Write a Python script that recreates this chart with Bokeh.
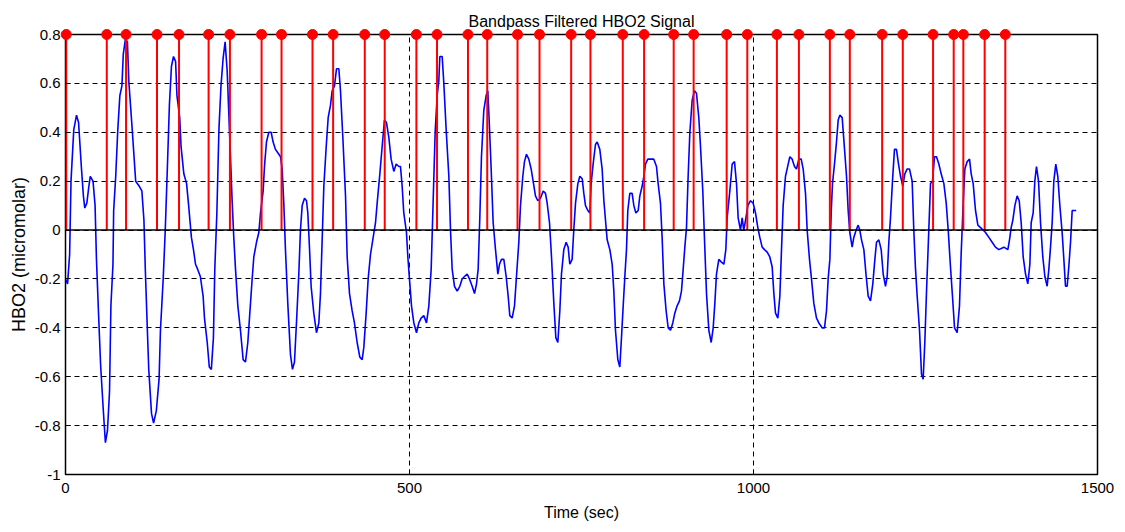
from bokeh.plotting import figure
from bokeh.models import Span, FixedTicker, Range1d
from bokeh.embed import file_html
from bokeh.resources import INLINE

# ---------------- data ----------------
time_sec = [
    0, 3, 6, 8, 12, 16, 19, 23, 26, 28, 31, 34, 36, 40, 43, 45, 48, 51, 55, 58,
    61, 64, 66, 69, 70, 73, 76, 79, 82, 84, 87, 90, 92, 97, 102, 107, 111, 114, 116, 119,
    121, 125, 128, 132, 136, 138, 142, 145, 148, 151, 154, 157, 160, 162, 166, 168, 172, 176, 179, 183,
    186, 189, 192, 196, 200, 202, 206, 209, 212, 215, 217, 220, 223, 226, 229, 232, 235,
    239.8, 242.2, 244.6, 247.1, 250.5, 254.3, 258.2, 261.6, 265.0, 267.9, 271.3, 273.7, 277.6, 281.0,
    283.4, 287.3, 289.2, 292.1, 295.5, 298.9, 301.8, 305.2, 310.1, 312.5, 314.9, 317.3, 319.7, 323.1,
    327.0, 329.9, 332.8, 335.7, 339.1, 341.5, 344.0, 347.4, 350.3, 352.2, 354.6, 357.0, 360.9, 364.8,
    368.2, 370.6, 373.5, 375.5, 378.9, 381.8, 385.1, 387.6, 391.0, 393.9, 397.3, 399.7, 403.1, 407.0,
    409.4, 412.8, 416.6, 420.0, 423.9, 427.8, 431.2, 433.6, 437.0, 439.9, 443.3, 447.2, 450.6, 453.0,
    456.9, 460.2, 463.6, 466.5, 469.9, 473.3, 477.2, 480.6, 484.5,
    486.9, 489.3, 491.7, 495.6, 497.6, 500.5, 502.9, 506.3, 510.2, 513.5, 516.9, 520.8, 524.7, 528.1,
    531.5, 534.4, 537.3, 540.2, 542.6, 544.1, 547.5, 549.9, 553.3, 557.2, 559.6, 562.0, 565.4, 569.3,
    573.1, 576.5, 579.9, 583.8, 587.2, 591.1, 594.5, 597.4, 599.8, 602.2, 604.6, 608.0, 611.4, 613.8,
    615.8, 618.7, 621.6, 625.0, 628.4, 630.8, 633.7, 637.1, 640.5, 643.4, 645.8, 649.2, 652.6, 655.5,
    658.9, 661.3, 664.7, 667.1, 670.0, 673.4, 676.8, 679.7, 683.1, 686.5, 690.4, 694.3, 697.7, 700.1,
    703.5, 706.4, 709.8, 712.7, 715.6, 718.5, 720.9, 724.3, 727.7, 730.6, 733.0, 736.4,
    738.8, 741.3, 744.7, 747.6, 751.0, 753.4, 755.8, 759.2, 762.1, 764.0, 766.9, 770.3, 772.8, 776.6,
    780.0, 782.5, 784.9, 787.3, 791.2, 794.6, 797.0, 799.4, 802.8, 805.7, 808.1, 810.6, 813.0, 815.4,
    817.3, 820.2, 823.6, 826.1, 829.0, 832.4, 834.8, 838.2, 840.6, 843.0, 846.4, 850.3, 855.1, 859.0,
    861.4, 864.8, 867.2, 869.7, 873.0, 876.0, 879.4, 882.7, 885.6, 889.0, 892.4, 895.3, 897.8, 900.2,
    902.6, 905.0, 907.5, 910.8, 914.2, 917.1, 920.5, 923.0, 926.3, 928.8, 931.7, 935.1, 938.5, 941.4,
    943.8, 946.2, 949.6, 953.0, 956.9, 959.8, 961.7, 965.6, 969.0, 972.4, 975.3, 977.7,
    981.1, 983.5, 985.9, 988.4, 991.8, 995.6, 999.5, 1002.9, 1006.3, 1009.2, 1012.6, 1016.0, 1019.9,
    1023.7, 1027.1, 1029.6, 1032.0, 1035.4, 1038.3, 1040.7, 1043.1, 1046.5, 1048.9, 1052.8, 1056.2,
    1059.6, 1062.5, 1065.9, 1069.3, 1072.2, 1075.6, 1078.0, 1081.4, 1084.3, 1087.7, 1091.6, 1095.0,
    1099.8, 1103.2, 1106.1, 1108.5, 1111.0, 1112.9, 1114.8, 1117.7, 1120.6, 1123.1, 1125.5, 1128.9,
    1131.3, 1135.2, 1137.6, 1140.0, 1143.4, 1145.8, 1149.2, 1152.1, 1154.5, 1157.0, 1160.4, 1163.8,
    1166.7, 1170.1, 1173.4, 1176.4, 1178.8, 1182.2, 1185.6, 1188.5, 1191.9, 1194.3, 1196.7, 1199.1,
    1202.0, 1204.9, 1207.8, 1210.8, 1213.7, 1217.0, 1220.0, 1223.4, 1226.7,
    1230.6, 1233.0, 1235.5, 1237.9, 1241.3, 1244.2, 1246.6, 1249.0, 1251.5, 1254.8, 1257.3, 1260.2,
    1263.1, 1266.0, 1269.4, 1272.8, 1276.7, 1280.1, 1283.0, 1286.3, 1289.2, 1292.2, 1296.0, 1299.4,
    1301.8, 1304.8, 1307.2, 1310.6, 1314.0, 1316.4, 1319.3, 1322.7, 1326.1, 1330.0, 1333.8, 1337.2,
    1342.1, 1346.9, 1351.7, 1356.6, 1363.9, 1369.7, 1372.1, 1374.5, 1376.9, 1379.9, 1383.2, 1386.2,
    1389.1, 1392.0, 1395.4, 1398.7, 1401.7, 1403.6, 1406.5, 1408.9, 1411.3, 1414.3, 1417.2, 1420.5,
    1423.5, 1426.8, 1429.3, 1431.7, 1434.1, 1436.5, 1439.4, 1442.3, 1445.3, 1448.6, 1451.1, 1453.5,
    1455.9, 1458.3, 1460.8, 1463.2, 1465.6, 1469.0,
]

hbo2 = [
    -0.2, -0.22, -0.1, 0.2, 0.41, 0.47, 0.44, 0.26, 0.14, 0.09, 0.11, 0.18, 0.22, 0.2, 0.1, -0.12, -0.34, -0.55, -0.74, -0.87,
    -0.82, -0.66, -0.31, -0.14, 0.08, 0.22, 0.41, 0.55, 0.59, 0.72, 0.78, 0.77, 0.61, 0.41, 0.2, 0.18, 0.16, 0.04, -0.16, -0.41,
    -0.57, -0.75, -0.79, -0.74, -0.61, -0.41, -0.2, 0.0, 0.25, 0.51, 0.67, 0.71, 0.69, 0.55, 0.46, 0.34, 0.23, 0.19, 0.1, -0.03,
    -0.08, -0.14, -0.16, -0.19, -0.27, -0.36, -0.46, -0.56, -0.57, -0.44, -0.16, 0.07, 0.41, 0.59, 0.7, 0.77, 0.65,
    0.3, 0.12, -0.03, -0.16, -0.31, -0.41, -0.53, -0.54, -0.46, -0.34, -0.2, -0.11, -0.05, -0.01,
    0.07, 0.16, 0.26, 0.36, 0.4, 0.4, 0.36, 0.33, 0.31, 0.3, 0.25, 0.11, -0.08, -0.3,
    -0.51, -0.57, -0.54, -0.38, -0.18, 0.0, 0.1, 0.13, 0.12, 0.07, -0.07, -0.23, -0.34, -0.42,
    -0.38, -0.26, 0.0, 0.18, 0.34, 0.46, 0.51, 0.57, 0.59, 0.66, 0.66, 0.57, 0.38, 0.14,
    -0.11, -0.26, -0.33, -0.38, -0.46, -0.52, -0.53, -0.48, -0.34, -0.2, -0.1, -0.03, 0.03, 0.11,
    0.23, 0.34, 0.45, 0.44, 0.38, 0.29, 0.24, 0.27, 0.26,
    0.26, 0.18, 0.07, -0.01, -0.11, -0.22, -0.31, -0.38, -0.42, -0.38, -0.36, -0.35, -0.38, -0.31,
    -0.16, 0.12, 0.4, 0.55, 0.61, 0.71, 0.71, 0.6, 0.41, 0.22, 0.0, -0.16, -0.23, -0.25,
    -0.23, -0.2, -0.19, -0.18, -0.2, -0.23, -0.26, -0.22, -0.16, 0.05, 0.3, 0.49, 0.55, 0.57,
    0.45, 0.25, 0.03, -0.08, -0.18, -0.14, -0.12, -0.12, -0.19, -0.27, -0.35, -0.36, -0.31, -0.19,
    -0.05, 0.1, 0.22, 0.28, 0.31, 0.29, 0.25, 0.2, 0.14, 0.12, 0.13, 0.16, 0.15, 0.11,
    0.03, -0.11, -0.3, -0.44, -0.46, -0.33, -0.18, -0.08, -0.05, -0.07, -0.14, -0.12,
    0.0, 0.11, 0.19, 0.22, 0.21, 0.15, 0.1, 0.08, 0.07, 0.19, 0.27, 0.35, 0.36, 0.33,
    0.25, 0.12, 0.04, -0.04, -0.08, -0.14, -0.25, -0.41, -0.53, -0.56, -0.44, -0.31, -0.19, -0.08,
    0.08, 0.15, 0.15, 0.1, 0.07, 0.08, 0.14, 0.18, 0.22, 0.27, 0.29, 0.29, 0.29, 0.26,
    0.19, 0.11, -0.03, -0.22, -0.33, -0.4, -0.41, -0.38, -0.34, -0.31, -0.29, -0.25, -0.16, -0.07,
    0.01, 0.22, 0.4, 0.53, 0.57, 0.56, 0.46, 0.34, 0.16, -0.04, -0.26, -0.41, -0.46, -0.4,
    -0.3, -0.18, -0.12, -0.13, -0.14, -0.08, 0.05, 0.16, 0.27, 0.28, 0.19, 0.05,
    0.0, 0.05, 0.0, 0.04, 0.1, 0.12, 0.11, 0.07, 0.01, -0.03, -0.07, -0.08, -0.09,
    -0.11, -0.15, -0.26, -0.34, -0.36, -0.27, -0.08, 0.1, 0.22, 0.25, 0.3, 0.29,
    0.26, 0.25, 0.29, 0.29, 0.25, 0.15, 0.0, -0.12, -0.2, -0.3, -0.36, -0.38,
    -0.4, -0.4, -0.33, -0.2, -0.12, 0.07, 0.19, 0.27, 0.36, 0.45, 0.47, 0.46,
    0.37, 0.22, 0.08, -0.01, -0.07, -0.03, 0.0, 0.02, 0.0, -0.04, -0.08, -0.19,
    -0.27, -0.29, -0.22, -0.12, -0.05, -0.04, -0.08, -0.18, -0.23, -0.19, -0.05, 0.05,
    0.2, 0.33, 0.33, 0.27, 0.22, 0.18, 0.23, 0.25, 0.25,
    0.2, 0.0, -0.16, -0.27, -0.41, -0.59, -0.61, -0.46, -0.25, 0.0, 0.19, 0.2,
    0.3, 0.3, 0.27, 0.23, 0.19, 0.11, 0.0, -0.15, -0.27, -0.4, -0.42, -0.31,
    -0.1, 0.11, 0.25, 0.28, 0.29, 0.23, 0.19, 0.08, 0.02, 0.01, 0.0, -0.01,
    -0.03, -0.05, -0.07, -0.08, -0.07, -0.08, -0.04, 0.01, 0.04, 0.1, 0.14, 0.12,
    0.03, -0.11, -0.18, -0.22, -0.14, 0.03, 0.07, 0.2, 0.26, 0.2, 0.03, -0.11,
    -0.19, -0.23, -0.16, -0.07, 0.03, 0.2, 0.27, 0.22, 0.1, -0.01, -0.12, -0.23,
    -0.23, -0.15, -0.05, 0.08, 0.08, 0.08,
]

stim_onsets = [
    1, 60, 88, 133, 165, 208, 239, 285, 314, 359, 389, 435, 464, 510, 540, 585,
    613, 657, 689, 735, 763, 810, 841, 884, 913, 961, 991, 1034, 1066, 1111,
    1140, 1187, 1217, 1261, 1291, 1305, 1336, 1366,
]
stim_level = 0.8

x_ticks = [0, 500, 1000, 1500]
y_ticks = [-1, -0.8, -0.6, -0.4, -0.2, 0, 0.2, 0.4, 0.6, 0.8]
y_tick_labels = ["-1", "-0.8", "-0.6", "-0.4", "-0.2", "0", "0.2", "0.4", "0.6", "0.8"]

FONT = "Liberation Sans"

# ---------------- figure ----------------
p = figure(
    width=1125, height=532,
    x_range=Range1d(0, 1500), y_range=Range1d(-1, 0.8),
    output_backend="svg", toolbar_location=None,
    min_border_left=65, min_border_right=28, min_border_top=34, min_border_bottom=58,
    title="Bandpass Filtered HBO2 Signal",
    background_fill_color="white", border_fill_color="white",
)

p.title.align = "center"
p.title.text_font = FONT
p.title.text_font_size = "16px"
p.title.text_font_style = "normal"
p.title.text_color = "black"
p.title.standoff = 10

p.outline_line_color = "black"
p.outline_line_width = 1.5
p.outline_line_alpha = 1.0

# axes
p.xaxis.ticker = FixedTicker(ticks=x_ticks)
p.yaxis.ticker = FixedTicker(ticks=y_ticks)
p.yaxis.major_label_overrides = {v: s for v, s in zip(y_ticks, y_tick_labels)}
for ax in (p.xaxis[0], p.yaxis[0]):
    ax.axis_line_color = None
    ax.major_tick_in = 5
    ax.major_tick_out = 0
    ax.major_tick_line_color = "black"
    ax.minor_tick_line_color = None
    ax.major_label_text_font = FONT
    ax.major_label_text_font_size = "15px"
    ax.major_label_text_color = "black"
    ax.axis_label_text_font = FONT
    ax.axis_label_text_font_size = "16px"
    ax.axis_label_text_font_style = "normal"
    ax.axis_label_text_color = "black"

p.xaxis.axis_label = "Time (sec)"
p.yaxis.axis_label = "HBO2 (micromolar)"
p.yaxis.axis_label_text_font_size = "18px"
p.xaxis.major_label_standoff = 8
p.xaxis.axis_label_standoff = 8
p.yaxis.major_label_standoff = 5
p.yaxis.axis_label_standoff = 3

# grid
for g in (p.xgrid[0], p.ygrid[0]):
    g.grid_line_color = "black"
    g.grid_line_alpha = 1.0
    g.grid_line_width = 1
    g.grid_line_dash = "5 4"

# baseline of the stem plot
p.add_layout(Span(location=0, dimension="width", line_color="black", line_width=1.5))

# signal
p.line(time_sec, hbo2, line_color="#0000ff", line_width=1.6)

# stimulus stems
p.segment(x0=stim_onsets, y0=[0] * len(stim_onsets), x1=stim_onsets,
          y1=[stim_level] * len(stim_onsets), line_color="#ff0000", line_width=2)
heads = p.scatter(stim_onsets, [stim_level] * len(stim_onsets), marker="circle", size=10,
                  fill_color="#ff0000", line_color="#ff0000", level="overlay")
if "clip" in heads.properties():
    heads.clip = False

open("out.html", "w").write(file_html(p, INLINE))
